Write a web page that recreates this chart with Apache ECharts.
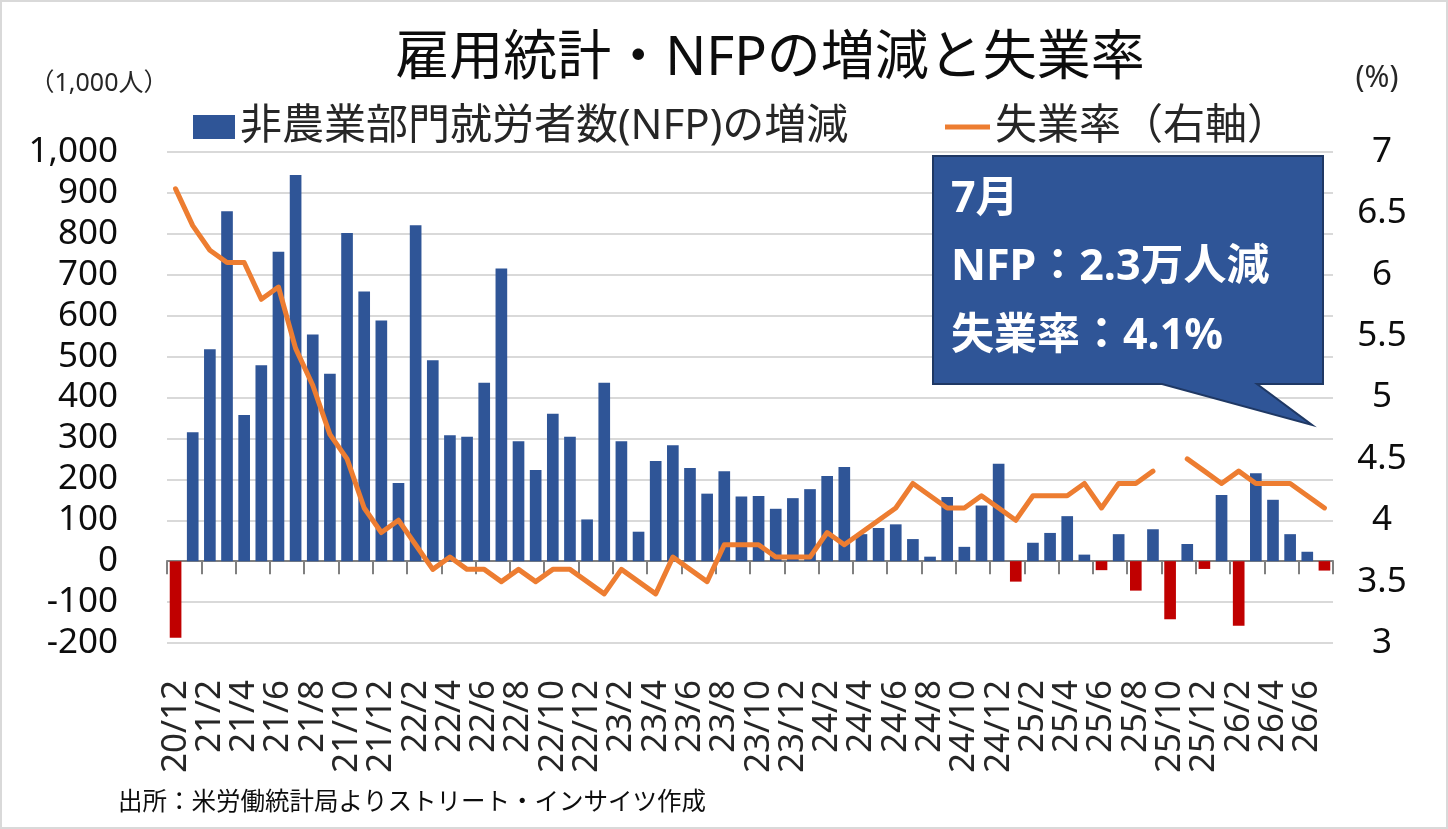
<!DOCTYPE html>
<html>
<head>
<meta charset="utf-8">
<script src="https://cdn.jsdelivr.net/npm/echarts@6/dist/echarts.min.js"></script>
<style>
html,body{margin:0;padding:0;background:#fff;}
#chart{width:1448px;height:829px;}
</style>
</head>
<body>
<div id="chart"></div>
<script>
const categories = [
  "20/12",
  "21/1","21/2","21/3","21/4","21/5","21/6","21/7","21/8","21/9","21/10","21/11","21/12",
  "22/1","22/2","22/3","22/4","22/5","22/6","22/7","22/8","22/9","22/10","22/11","22/12",
  "23/1","23/2","23/3","23/4","23/5","23/6","23/7","23/8","23/9","23/10","23/11","23/12",
  "24/1","24/2","24/3","24/4","24/5","24/6","24/7","24/8","24/9","24/10","24/11","24/12",
  "25/1","25/2","25/3","25/4","25/5","25/6","25/7","25/8","25/9","25/10","25/11","25/12",
  "26/1","26/2","26/3","26/4","26/5","26/6","26/7"
];
// 非農業部門就労者数の増減 (1,000人)
const nfpChange = [
  -187,
  315,518,855,357,479,756,944,554,458,802,659,588,
  191,821,491,308,304,436,715,293,223,360,304,102,
  436,293,72,245,283,228,165,220,158,159,128,154,
  176,208,230,66,81,90,54,11,157,35,136,238,
  -50,45,69,110,16,-22,66,-72,78,-142,42,-19,
  162,-158,215,150,66,23,-23
];
// 失業率 (%)
const unemploymentRate = [
  6.7,
  6.4,6.2,6.1,6.1,5.8,5.9,5.4,5.1,4.7,4.5,4.1,3.9,
  4.0,3.8,3.6,3.7,3.6,3.6,3.5,3.6,3.5,3.6,3.6,3.5,
  3.4,3.6,3.5,3.4,3.7,3.6,3.5,3.8,3.8,3.8,3.7,3.7,
  3.7,3.9,3.8,3.9,4.0,4.1,4.3,4.2,4.1,4.1,4.2,4.1,
  4.0,4.2,4.2,4.2,4.3,4.1,4.3,4.3,4.4,null,4.5,4.4,
  4.3,4.4,4.3,4.3,4.3,4.2,4.1
];
const leftTicks = {min: -200, max: 1000, interval: 100};
const rightTicks = {min: 3, max: 7, interval: 0.5};

const titleText = "雇用統計・NFPの増減と失業率";
const barName = "非農業部門就労者数(NFP)の増減";
const lineName = "失業率（右軸）";
const calloutLines = ["7月", "NFP：2.3万人減", "失業率：4.1%"];
const sourceText = "出所：米労働統計局よりストリート・インサイツ作成";

const FONT = "'Noto Sans', 'Noto Sans CJK JP', sans-serif";
const BLUE = '#2F5597', RED = '#C00000', ORANGE = '#ED7D31';

const chart = echarts.init(document.getElementById('chart'), null, {renderer: 'canvas'});
const option = {
  animation: false,
  backgroundColor: '#fff',
  textStyle: {fontFamily: FONT},
  grid: {left: 167, right: 115, top: 152, bottom: 186, containLabel: false},
  legend: [
    {
      left: 193, top: 106, padding: 0,
      itemWidth: 42, itemHeight: 24, itemGap: 4,
      textStyle: {fontSize: 42, color: '#262626', fontFamily: FONT},
      data: [{name: barName, icon: 'rect', itemStyle: {color: BLUE}}]
    },
    {
      left: 945, top: 106, padding: 0,
      itemWidth: 45, itemHeight: 5,
      textStyle: {fontSize: 42, color: '#262626', fontFamily: FONT},
      data: [{name: lineName, icon: 'rect', itemStyle: {color: ORANGE}}]
    }
  ],
  xAxis: [
    {
      type: 'category', data: categories, position: 'bottom',
      boundaryGap: true,
      axisLine: {show: true, onZero: true, lineStyle: {color: '#808080', width: 2}},
      axisTick: {show: true, interval: 1, length: 13, lineStyle: {color: '#808080', width: 2}},
      axisLabel: {show: false},
      splitLine: {show: false}
    },
    {
      type: 'category', data: categories, position: 'bottom',
      boundaryGap: true,
      axisLine: {show: false, onZero: false},
      axisTick: {show: false},
      axisLabel: {
        show: true, rotate: 90, margin: 37, fontSize: 35,
        color: '#262626', fontFamily: FONT,
        interval: 0,
        formatter: (val, idx) => (idx % 2 === 0 ? val : ''),
        hideOverlap: false
      },
      splitLine: {show: false}
    }
  ],
  yAxis: [
    {
      type: 'value', min: leftTicks.min, max: leftTicks.max, interval: leftTicks.interval,
      position: 'left',
      axisLine: {show: false}, axisTick: {show: false},
      axisLabel: {fontSize: 35, color: '#0d0d0d', margin: 49, fontFamily: FONT,
        showMinLabel: true, showMaxLabel: true,
        formatter: v => v.toLocaleString('en-US')},
      splitLine: {show: true, lineStyle: {color: '#d9d9d9', width: 2}}
    },
    {
      type: 'value', min: rightTicks.min, max: rightTicks.max, interval: rightTicks.interval,
      position: 'right',
      axisLine: {show: false}, axisTick: {show: false},
      axisLabel: {fontSize: 35, color: '#0d0d0d', margin: 49, align: 'center', fontFamily: FONT,
        showMinLabel: true, showMaxLabel: true},
      splitLine: {show: false}
    }
  ],
  series: [
    {
      name: barName, type: 'bar', xAxisIndex: 0, yAxisIndex: 0,
      data: nfpChange, barWidth: '68%',
      itemStyle: {color: p => (p.value < 0 ? RED : BLUE)},
      z: 2
    },
    {
      name: lineName, type: 'line', xAxisIndex: 0, yAxisIndex: 1,
      data: unemploymentRate, connectNulls: false,
      symbol: 'none', showSymbol: false,
      lineStyle: {color: ORANGE, width: 5, cap: 'round', join: 'round'},
      itemStyle: {color: ORANGE},
      z: 3
    }
  ],
  graphic: [
    {type: 'rect', silent: true, z: 100,
      shape: {x: 1, y: 1, width: 1446, height: 827},
      style: {fill: null, stroke: '#d9d9d9', lineWidth: 2}},
    {type: 'text', z: 100, x: 770, y: 60,
      style: {text: titleText, fontSize: 54, fontFamily: FONT, fill: '#0d0d0d',
        textAlign: 'center', textVerticalAlign: 'middle'}},
    {type: 'text', z: 100, x: 99, y: 84,
      style: {text: '（1,000人）', fontSize: 25, fontFamily: FONT, fill: '#262626',
        textAlign: 'center', textVerticalAlign: 'middle'}},
    {type: 'text', z: 100, x: 1377, y: 78,
      style: {text: '(%)', fontSize: 30, fontFamily: FONT, fill: '#262626',
        textAlign: 'center', textVerticalAlign: 'middle'}},
    {type: 'text', z: 100, x: 118, y: 803,
      style: {text: sourceText, fontSize: 24.5, fontFamily: FONT, fill: '#0d0d0d',
        textAlign: 'left', textVerticalAlign: 'middle'}},
    {type: 'polygon', z: 50,
      shape: {points: [[933,156],[1323,156],[1323,384],[1257,384],[1312,425],[1162,384],[933,384]]},
      style: {fill: BLUE, stroke: '#1F3864', lineWidth: 2}},
    {type: 'text', z: 51, x: 951, y: 200,
      style: {text: calloutLines[0], fontSize: 43, fontWeight: 'bold', fontFamily: FONT, fill: '#fff',
        textAlign: 'left', textVerticalAlign: 'middle'}},
    {type: 'text', z: 51, x: 951, y: 268,
      style: {text: calloutLines[1], fontSize: 43, fontWeight: 'bold', fontFamily: FONT, fill: '#fff',
        textAlign: 'left', textVerticalAlign: 'middle'}},
    {type: 'text', z: 51, x: 951, y: 337,
      style: {text: calloutLines[2], fontSize: 43, fontWeight: 'bold', fontFamily: FONT, fill: '#fff',
        textAlign: 'left', textVerticalAlign: 'middle'}}
  ]
};
chart.setOption(option);
</script>
</body>
</html>
